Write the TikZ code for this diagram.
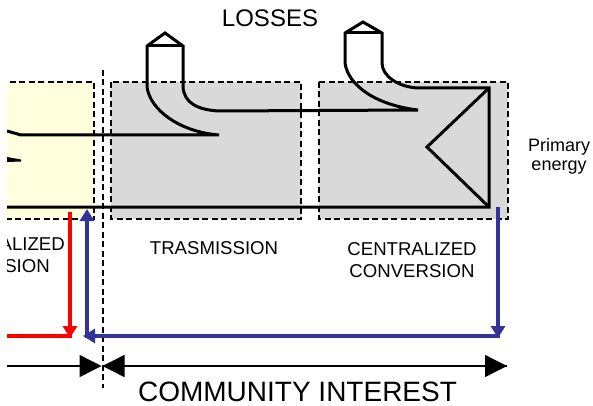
\documentclass[tikz,border=0pt]{standalone}
\usepackage{fontspec}
\setmainfont{Liberation Sans}
\usetikzlibrary{arrows.meta}
\definecolor{flowblue}{RGB}{51,51,153}
\definecolor{areayellow}{RGB}{255,255,221}
\definecolor{areagray}{RGB}{217,217,217}
\tikzset{
  area/.style={dash pattern=on 6pt off 3.5pt, line width=1.2pt},
  pipe/.style={line width=3pt},
  redflow/.style={red, line width=3.6pt, -{Triangle[width=14pt,length=12pt]}},
  blueflow/.style={flowblue, line width=3.6pt, -{Triangle[width=14pt,length=12pt]}},
  bound/.style={line width=1.4pt},
  bigtip/.style={-{Triangle[width=22pt,length=22pt]}},
  areatext/.style={inner sep=0pt, anchor=base, font=\fontsize{18.6}{22}\selectfont},
}
\begin{document}
\begin{tikzpicture}[x=1pt, y=-1pt]
    \useasboundingbox (0,0) rectangle (593,406);
    \clip (7,0) rectangle (593,406);

    % Areas
    \fill[areayellow] (0,82) rectangle (94,219);
    \draw[area] (0,82) -- (94,82) -- (94,219) -- (0,219);
    \filldraw[area, fill=areagray] (111,82) rectangle (301,219);
    \filldraw[area, fill=areagray] (319,82) rectangle (508,219);
    \draw[area] (103,70) -- (103,388);

    % Losses - first chimney
    \draw[pipe] (147,87) -- (147,46) -- (165,33) -- (183,46) -- (183,87);
    \draw[pipe] (147,46) -- (183,46);
    \draw[pipe] (147,87) .. controls (150,110) and (180,132) .. (219,135) -- (21,135) -- (7,131);

    % Losses - second chimney
    \draw[pipe] (345,63) -- (345,33) -- (363,22) -- (382,33) -- (382,63);
    \draw[pipe] (345,33) -- (382,33);
    \draw[pipe] (183,87) .. controls (184,103) and (198,110) .. (219,111) -- (418,110)
        .. controls (375,105) and (348,85) .. (345,63);

    % Conversion
    \draw[pipe] (382,63) .. controls (382,76) and (398,87) .. (418,88) -- (489,88)
        -- (489,207) -- (7,207);
    \draw[pipe] (489,88) -- (427,147) -- (489,207);
    \fill (7,157) -- (21,159.5) -- (21,161.5) -- (7,162) -- cycle;

    % Flow points
    \coordinate (redtop) at (70,212);
    \coordinate (redend) at (70,338);
    \coordinate (redleft) at (7,336);
    \coordinate (redcorner) at (72,336);
    \coordinate (convout) at (498,207);
    \coordinate (convdown) at (498,338);
    \coordinate (convcorner) at (499.8,336);
    \coordinate (trasleft) at (83,336);
    \coordinate (trasbottom) at (87,337.8);
    \coordinate (trasin) at (87,209);

    % Flows
    \draw[redflow] (redtop) -- (redend);
    \draw[red, line width=3.6pt] (redleft) -- (redcorner);
    \draw[blueflow] (convout) -- (convdown);
    \draw[blueflow] (convcorner) -- (trasleft);
    \draw[blueflow] (trasbottom) -- (trasin);

    % Interest boundary
    \coordinate (bleft) at (7,366);
    \coordinate (bmidl) at (101.5,366);
    \coordinate (bmidr) at (102.5,366);
    \coordinate (bright) at (507,366);
    \draw[bound, bigtip] (bleft) -- (bmidl);
    \draw[bound, bigtip] (bmidr) -- (bright);
    \draw[bound, bigtip] (bright) -- (bmidr);

    % Labels
    \node[areatext, font=\fontsize{24}{28}\selectfont] (losses) at (270,27) {LOSSES};
    \node[areatext] (trasm) at (214,254) {TRASMISSION};
    \node[areatext] (centr) at (412,255) {CENTRALIZED};
    \node[areatext] (conv) at (412,277) {CONVERSION};
    \node[areatext, anchor=base east] (decentr) at (65,250) {ALIZED};
    \node[areatext, anchor=base east] (deconv) at (50,272) {SION};
    \node[areatext, font=\fontsize{18}{20}\selectfont] (primary) at (559,151) {Primary};
    \node[areatext, font=\fontsize{18}{20}\selectfont] (energy) at (559,170) {energy};
    \node[areatext, font=\fontsize{28}{32}\selectfont] (community) at (297.5,401) {COMMUNITY INTEREST};
\end{tikzpicture}
\end{document}
